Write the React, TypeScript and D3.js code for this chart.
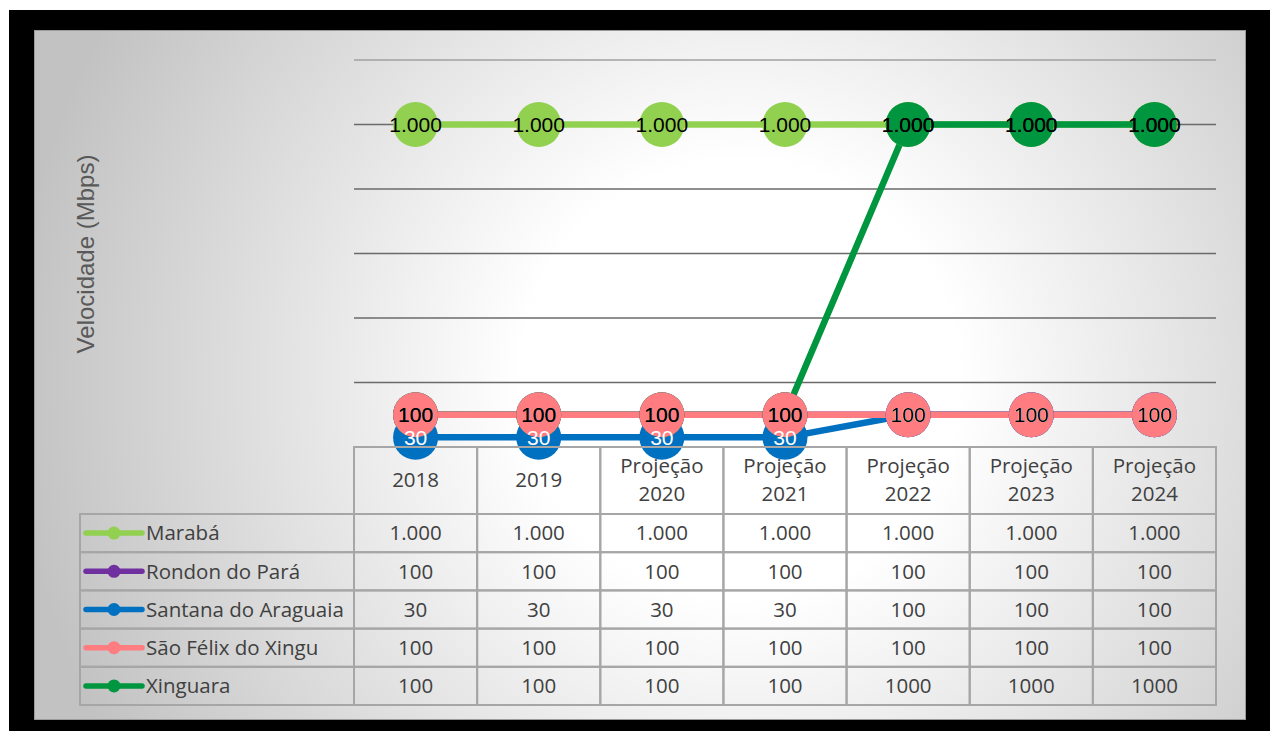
import React from 'react';
import * as d3 from 'd3';

const categories = ['2018', '2019', 'Projeção 2020', 'Projeção 2021', 'Projeção 2022', 'Projeção 2023', 'Projeção 2024'];
const seriesNames = ['Marabá', 'Rondon do Pará', 'Santana do Araguaia', 'São Félix do Xingu', 'Xinguara'];
const maraba = [1000, 1000, 1000, 1000, 1000, 1000, 1000];
const rondon = [100, 100, 100, 100, 100, 100, 100];
const santana = [30, 30, 30, 30, 100, 100, 100];
const saoFelix = [100, 100, 100, 100, 100, 100, 100];
const xinguara = [100, 100, 100, 100, 1000, 1000, 1000];
const seriesValues = [maraba, rondon, santana, saoFelix, xinguara];
const seriesColors = ['#92d050', '#7030a0', '#0070c0', '#ff7c80', '#00953f'];
const labelColors = ['#000000', '#ffffff', '#ffffff', '#000000', '#000000'];
const tableGrouping = [true, true, true, true, false];
const drawOrder = [0, 1, 2, 4, 3];
const yTicks = [0, 200, 400, 600, 800, 1000, 1200];
const yTitle = 'Velocidade (Mbps)';

const fmtGroup = d3.formatLocale({ decimal: ',', thousands: '.', grouping: [3], currency: ['R$', ''] }).format(',d');
const fmtPlain = d3.format('d');

export default function App() {
  const W = 1270, H = 731;
  const x = d3.scaleBand<string>().domain(categories).range([354, 1216]);
  const y = d3.scaleLinear().domain([0, 1200]).range([447, 60]);
  const rows = d3.scaleBand<string>().domain(seriesNames).range([514, 705]);
  const line = d3.line<number>().x((_, i) => (x(categories[i]) as number) + x.bandwidth() / 2).y((v) => y(v));
  const cx = (i: number) => (x(categories[i]) as number) + x.bandwidth() / 2;
  const tableLeft = 80;
  const gridColor = '#a6a6a6';
  const textColor = '#404040';
  const tFont = "'Open Sans', sans-serif";
  const lFont = "'Liberation Sans', Arial, sans-serif";

  return (
    <svg width={W} height={H} style={{ position: 'absolute', left: 0, top: 0 }}>
      <defs>
        <radialGradient id="bg" gradientUnits="userSpaceOnUse" cx={740} cy={380} r={730}>
          <stop offset="0" stopColor="#ffffff" />
          <stop offset="0.3" stopColor="#ffffff" />
          <stop offset="1" stopColor="#c2c2c2" />
        </radialGradient>
      </defs>
      <rect x={0} y={0} width={W} height={H} fill="#ffffff" />
      <rect x={9} y={10} width={W - 9} height={H - 10} fill="#000000" />
      <rect x={34.5} y={30.5} width={1211} height={689} fill="url(#bg)" stroke="#9a9a9a" strokeWidth={1} />

      {/* gridlines */}
      {yTicks.slice(1).map((t) => (
        <line key={t} x1={354} x2={1216} y1={y(t)} y2={y(t)} stroke={t >= 1200 ? '#a0a0a0' : '#6a6a6a'} strokeWidth={1.3} />
      ))}

      {/* y title */}
      <text
        transform={`translate(94,${254}) rotate(-90)`}
        textAnchor="middle"
        fontFamily={lFont}
        fontSize={24}
        fill="#595959"
      >
        {yTitle}
      </text>

      {/* lines */}
      {drawOrder.map((s) => (
        <path key={s} d={line(seriesValues[s]) as string} fill="none" stroke={seriesColors[s]} strokeWidth={6.5} strokeLinejoin="round" />
      ))}

      {/* markers */}
      {drawOrder.map((s) => (
        <g key={s}>
          {seriesValues[s].map((v, i) => (
            <circle key={i} cx={cx(i)} cy={y(v)} r={22.5} fill={seriesColors[s]} />
          ))}
        </g>
      ))}

      {/* data labels */}
      {drawOrder.map((s) => (
        <g key={s}>
          {seriesValues[s].map((v, i) => (
            <text
              key={i}
              x={cx(i)}
              y={y(v)}
              dy="0.36em"
              textAnchor="middle"
              fontFamily={lFont}
              fontSize={21}
              fill={labelColors[s]}
            >
              {fmtGroup(v)}
            </text>
          ))}
        </g>
      ))}

      {/* table */}
      <g>
        {categories.map((c) => {
          const x0 = x(c) as number;
          const parts = c.split(' ');
          const mid = 480;
          return (
            <g key={c}>
              <rect x={x0} y={447} width={x.bandwidth()} height={67} fill="none" stroke={gridColor} strokeWidth={2} />
              {parts.map((p, k) => (
                <text
                  key={k}
                  x={x0 + x.bandwidth() / 2}
                  y={mid + (k - (parts.length - 1) / 2) * 28}
                  dy="0.36em"
                  textAnchor="middle"
                  fontFamily={tFont}
                  fontSize={20.5}
                  fill={textColor}
                >
                  {p}
                </text>
              ))}
            </g>
          );
        })}
        {seriesNames.map((name, s) => {
          const y0 = rows(name) as number;
          const h = rows.bandwidth();
          const ym = y0 + h / 2;
          return (
            <g key={name}>
              <rect x={tableLeft} y={y0} width={354 - tableLeft} height={h} fill="none" stroke={gridColor} strokeWidth={2} />
              <line x1={86} x2={142} y1={ym} y2={ym} stroke={seriesColors[s]} strokeWidth={5.5} strokeLinecap="round" />
              <circle cx={114} cy={ym} r={6.5} fill={seriesColors[s]} />
              <text x={146} y={ym} dy="0.36em" fontFamily={tFont} fontSize={20.5} fill={textColor}>
                {name}
              </text>
              {categories.map((c, i) => (
                <g key={c}>
                  <rect x={x(c) as number} y={y0} width={x.bandwidth()} height={h} fill="none" stroke={gridColor} strokeWidth={2} />
                  <text
                    x={cx(i)}
                    y={ym}
                    dy="0.36em"
                    textAnchor="middle"
                    fontFamily={tFont}
                    fontSize={20.5}
                    fill={textColor}
                  >
                    {tableGrouping[s] ? fmtGroup(seriesValues[s][i]) : fmtPlain(seriesValues[s][i])}
                  </text>
                </g>
              ))}
            </g>
          );
        })}
      </g>
    </svg>
  );
}
